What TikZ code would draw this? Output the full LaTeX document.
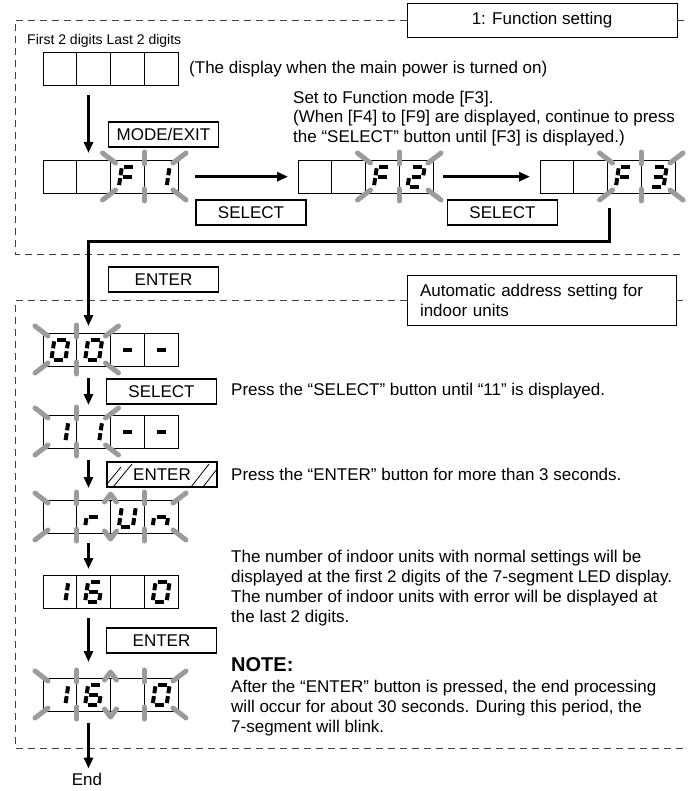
\documentclass[tikz,border=0pt]{standalone}
\usepackage{fontspec}
\setmainfont{Liberation Sans}
\usetikzlibrary{arrows.meta,calc}
\definecolor{raygray}{RGB}{155,155,155}
\newcommand\mainfs{\fontsize{17}{20}\selectfont}
% seven-segment pieces (local coords, y downwards)
\newcommand\segA{\draw[seg] (-4.6,-10) -- (4.6,-10);}
\newcommand\segB{\draw[seg] (7,-8.4) -- (7,-1.4);}
\newcommand\segC{\draw[seg] (7,1.4) -- (7,8.4);}
\newcommand\segD{\draw[seg] (-4.6,10) -- (4.6,10);}
\newcommand\segE{\draw[seg] (-7,1.4) -- (-7,8.4);}
\newcommand\segF{\draw[seg] (-7,-8.4) -- (-7,-1.4);}
\newcommand\segG{\draw[seg] (-4.6,0) -- (4.6,0);}
\newcommand\dF{\segA\segF\segE\segG}
\newcommand\dOne{\segB\segC}
\newcommand\dTwo{\segA\segB\segG\segE\segD}
\newcommand\dThree{\segA\segB\segG\segC\segD}
\newcommand\dZero{\segA\segB\segC\segD\segE\segF}
\newcommand\dDash{\segG}
\newcommand\dR{\segG\segE}
\newcommand\dU{\segB\segC\segD\segE\segF}
\newcommand\dN{\segG\segC\segE}
\newcommand\dSix{\segA\segF\segG\segE\segD\segC}
% digit #3 in cell #2 of display node #1
\newcommand\digat[3]{\begin{scope}[shift={($(#1.west)+({16.875+33.75*(#2-1)},0)$)},xslant=0.15]#3\end{scope}}
% four-cell display
\newcommand\cells[3]{%
  \node[dispn,anchor=north west] (#1) at (#2,#3) {};
  \foreach \i in {0,1,2,3} {\draw[cell] ({#2+\i*33.75},#3) rectangle ++(33.75,33);}
}
% blinking rays round a two-cell group with top-left corner (#1,#2)
\newcommand\blinkg[2]{%
  \draw[ray] (#1,#2) ++(5,3) -- ++(-13,-10);
  \draw[ray] (#1,#2) ++(62.5,3) -- ++(13,-10);
  \draw[ray] (#1,#2) ++(5,30) -- ++(-13,10);
  \draw[ray] (#1,#2) ++(62.5,30) -- ++(13,10);
  \draw[ray] (#1,#2) ++(33.75,4) -- ++(0,-12);
  \draw[ray] (#1,#2) ++(33.75,29) -- ++(0,12);
}
% both groups blinking
\newcommand\blinkboth[2]{%
  \draw[ray] (#1,#2) ++(5,3) -- ++(-13,-10);
  \draw[ray] (#1,#2) ++(5,30) -- ++(-13,10);
  \draw[ray] (#1,#2) ++(33.75,4) -- ++(0,-12);
  \draw[ray] (#1,#2) ++(33.75,29) -- ++(0,12);
  \draw[ray,line join=round] (#1,#2) ++(61.5,2) -- ++(6,-8) -- ++(6,8);
  \draw[ray,line join=round] (#1,#2) ++(61.5,31) -- ++(6,8) -- ++(6,-8);
  \draw[ray] (#1,#2) ++(101.25,4) -- ++(0,-12);
  \draw[ray] (#1,#2) ++(101.25,29) -- ++(0,12);
  \draw[ray] (#1,#2) ++(130,3) -- ++(13,-10);
  \draw[ray] (#1,#2) ++(130,30) -- ++(13,10);
}
\begin{document}
\begin{tikzpicture}[x=1pt,y=-1pt,
  dashline/.style={draw=black!75,line width=0.9pt,dash pattern=on 7pt off 5pt},
  titlebox/.style={draw,line width=0.9pt,fill=white,inner sep=0pt,font=\mainfs},
  btn/.style={draw,line width=1.8pt,minimum width=110pt,minimum height=25pt,inner sep=0pt,font=\mainfs},
  cell/.style={draw,line width=0.9pt},
  dispn/.style={inner sep=0pt,minimum width=135pt,minimum height=33pt},
  ray/.style={draw=raygray,line width=5pt,line cap=round},
  seg/.style={line width=4pt},
  conn/.style={line width=3pt,-{Triangle[length=11pt,width=9pt]}},
  txt/.style={font=\mainfs,anchor=west,inner sep=0pt},
]
\fill[white] (0,0) rectangle (692,791);
\useasboundingbox (0,0) rectangle (692,791);

% ---------- section 1 ----------
\node[titlebox,minimum width=270pt,minimum height=34pt] (tb1) at (542,20) {1: Function setting};
\draw[dashline] (tb1.west) -- (15,20) -- (15,254) -- (684,254);
\draw[dashline] (tb1.east) -- (684,20);

\node[font=\fontsize{14}{16}\selectfont,anchor=west,inner sep=0pt] (lbl) at (27,41) {First 2 digits Last 2 digits};
\cells{r1}{43}{52}
\node[txt] (t1) at (189,69) {(The display when the main power is turned on)};

\node[txt] (t2) at (293,99) {Set to Function mode [F3].};
\node[txt] (t3) at (293,118.5) {(When [F4] to [F9] are displayed, continue to press};
\node[txt] (t4) at (293,138) {the “SELECT” button until [F3] is displayed.)};

\node[btn] (mode) at (163.5,134.5) {MODE/EXIT};

\cells{f1}{43}{160}
\cells{f2}{298}{160}
\cells{f3}{540}{160}
\blinkg{110.5}{160}
\blinkg{365.5}{160}
\blinkg{607.5}{160}
\digat{f1}{3}{\dF}\digat{f1}{4}{\dOne}
\digat{f2}{3}{\dF}\digat{f2}{4}{\dTwo}
\digat{f3}{3}{\dF}\digat{f3}{4}{\dThree}

\node[btn] (sel1) at (251,212.5) {SELECT};
\node[btn] (sel2) at (502.5,212.5) {SELECT};

\draw[conn] ($(r1.south west)+(45.5,10)$) -- ($(f1.north west)+(45.5,-7)$);
\draw[conn] ($(f1.east)+(17,0)$) -- ($(f2.west)+(-10,0)$);
\draw[conn] ($(f2.east)+(10,0)$) -- ($(f3.west)+(-10,0)$);

\node[btn] (ent1) at (163.5,279.5) {ENTER};

% ---------- section 2 ----------
\node[titlebox,minimum width=269pt,minimum height=50pt,text width=243pt,align=left,inner xsep=13pt] (tb2) at (541.5,300.5) {Automatic address setting for\\indoor units};
\draw[dashline] (tb2.west) -- (15,300.5) -- (15,748) -- (684,748);
\draw[dashline] (tb2.east) -- (684,300.5);

\cells{z1}{43}{333}
\blinkg{43}{333}
\digat{z1}{1}{\dZero}\digat{z1}{2}{\dZero}\digat{z1}{3}{\dDash}\digat{z1}{4}{\dDash}

\coordinate (lbend) at (88.5,242);
\draw[conn] ($(f3.south west)+(69.5,15)$) |- (lbend) -- ($(z1.north west)+(45.5,-7)$);

\node[btn] (sel3) at (161.5,391.5) {SELECT};
\node[txt] (t5) at (231,391.5) {Press the “SELECT” button until “11” is displayed.};

\cells{z2}{43}{415}
\blinkg{43}{415}
\digat{z2}{1}{\dOne}\digat{z2}{2}{\dOne}\digat{z2}{3}{\dDash}\digat{z2}{4}{\dDash}
\draw[conn] ($(z1.south west)+(45.5,12)$) -- ($(z2.north west)+(45.5,-10)$);

\node[btn] (ent2) at (162,474.5) {ENTER};
\begin{scope}[line width=0.8pt]
\draw (ent2.south west) ++(1,-4) -- ++(14,-17);
\draw (ent2.south west) ++(7,-1) -- ++(19,-23);
\draw (ent2.south west) ++(85,-1) -- ++(18,-23);
\draw (ent2.south west) ++(97,-1) -- ++(14,-18);
\end{scope}
\node[txt] (t6) at (231,474.5) {Press the “ENTER” button for more than 3 seconds.};

\cells{z3}{43}{500}
\blinkboth{43}{500}
\digat{z3}{2}{\dR}\digat{z3}{3}{\dU}\digat{z3}{4}{\dN}
\draw[conn] ($(z2.south west)+(45.5,12)$) -- ($(z3.north west)+(45.5,-12)$);

\node[txt] (t7) at (231,558) {The number of indoor units with normal settings will be};
\node[txt] (t8) at (231,578) {displayed at the first 2 digits of the 7-segment LED display.};
\node[txt] (t9) at (231,598) {The number of indoor units with error will be displayed at};
\node[txt] (t10) at (231,618) {the last 2 digits.};

\cells{z4}{43}{575}
\digat{z4}{1}{\dOne}\digat{z4}{2}{\dSix}\digat{z4}{4}{\dZero}
\draw[conn] ($(z3.south west)+(45.5,10)$) -- ($(z4.north west)+(45.5,-6)$);

\node[btn] (ent3) at (161.5,640.5) {ENTER};
\node[font=\fontsize{20}{24}\selectfont\bfseries,anchor=west,inner sep=0pt] (note) at (231,665) {NOTE:};
\node[txt] (t11) at (231,688) {After the “ENTER” button is pressed, the end processing};
\node[txt] (t12) at (231,708) {will occur for about 30 seconds. During this period, the};
\node[txt] (t13) at (231,728) {7-segment will blink.};

\cells{z5}{43}{678}
\blinkboth{43}{678}
\digat{z5}{1}{\dOne}\digat{z5}{2}{\dSix}\digat{z5}{4}{\dZero}
\draw[conn] ($(z4.south west)+(45.5,10)$) -- ($(z5.north west)+(45.5,-16)$);

\node[font=\mainfs,inner sep=1pt] (endn) at (87,779) {End};
\draw[conn] ($(z5.south west)+(45.5,12)$) -- ($(endn.north)+(1.5,-3)$);
\end{tikzpicture}
\end{document}
